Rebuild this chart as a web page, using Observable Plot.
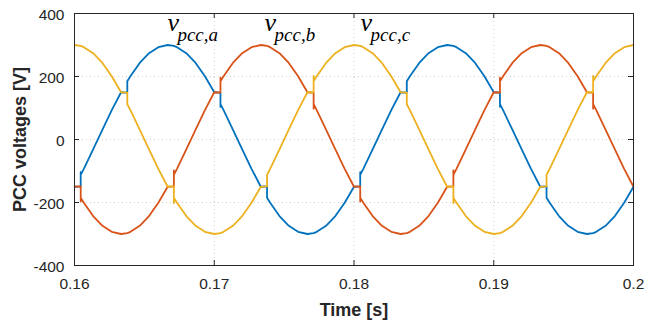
<!DOCTYPE html>
<html>
<head>
<meta charset="utf-8">
<script src="https://cdn.jsdelivr.net/npm/d3@7"></script>
<script src="https://cdn.jsdelivr.net/npm/@observablehq/plot@0.6"></script>
<style>
  html, body { margin: 0; padding: 0; background: #fff; }
  #chart { width: 645px; height: 324px; }
</style>
</head>
<body>
<div id="chart"></div>
<script>
// Sample instants [s]; repeated instants carry the step at the end of each commutation overlap
const time = [
  0.16, 0.160444, 0.160444, 0.160444,
  0.160667, 0.161333, 0.162, 0.162667, 0.163333,
  0.163778, 0.163778, 0.163778,
  0.164, 0.164667, 0.165333, 0.166, 0.166667,
  0.167111, 0.167111, 0.167111,
  0.167333, 0.168, 0.168667, 0.169333, 0.17,
  0.170444, 0.170444, 0.170444,
  0.170667, 0.171333, 0.172, 0.172667, 0.173333,
  0.173778, 0.173778, 0.173778,
  0.174, 0.174667, 0.175333, 0.176, 0.176667,
  0.177111, 0.177111, 0.177111,
  0.177333, 0.178, 0.178667, 0.179333, 0.18,
  0.180444, 0.180444, 0.180444,
  0.180667, 0.181333, 0.182, 0.182667, 0.183333,
  0.183778, 0.183778, 0.183778,
  0.184, 0.184667, 0.185333, 0.186, 0.186667,
  0.187111, 0.187111, 0.187111,
  0.187333, 0.188, 0.188667, 0.189333, 0.19,
  0.190444, 0.190444, 0.190444,
  0.190667, 0.191333, 0.192, 0.192667, 0.193333,
  0.193778, 0.193778, 0.193778,
  0.194, 0.194667, 0.195333, 0.196, 0.196667,
  0.197111, 0.197111, 0.197111,
  0.197333, 0.198, 0.198667, 0.199333, 0.2
];

// PCC phase voltages [V]
const vpccA = [
  -150, -149, -104, -112,
  -93, -31, 31, 93, 150,
  149, 185, 185,
  201, 243, 274, 293, 300,
  297, 297, 297,
  293, 274, 243, 201, 150,
  149, 104, 112,
  93, 31, -31, -93, -150,
  -149, -185, -185,
  -201, -243, -274, -293, -300,
  -297, -297, -297,
  -293, -274, -243, -201, -150,
  -149, -104, -112,
  -93, -31, 31, 93, 150,
  149, 185, 185,
  201, 243, 274, 293, 300,
  297, 297, 297,
  293, 274, 243, 201, 150,
  149, 104, 112,
  93, 31, -31, -93, -150,
  -149, -185, -185,
  -201, -243, -274, -293, -300,
  -297, -297, -297,
  -293, -274, -243, -201, -150
];

const vpccB = [
  -150, -149, -197, -185,
  -201, -243, -274, -293, -300,
  -297, -297, -297,
  -293, -274, -243, -201, -150,
  -149, -98, -112,
  -93, -31, 31, 93, 150,
  149, 196, 185,
  201, 243, 274, 293, 300,
  297, 297, 297,
  293, 274, 243, 201, 150,
  149, 98, 112,
  93, 31, -31, -93, -150,
  -149, -197, -185,
  -201, -243, -274, -293, -300,
  -297, -297, -297,
  -293, -274, -243, -201, -150,
  -149, -98, -112,
  -93, -31, 31, 93, 150,
  149, 196, 185,
  201, 243, 274, 293, 300,
  297, 297, 297,
  293, 274, 243, 201, 150,
  149, 98, 112,
  93, 31, -31, -93, -150
];

const vpccC = [
  300, 297, 297, 297,
  293, 274, 243, 201, 150,
  149, 112, 112,
  93, 31, -31, -93, -150,
  -149, -202, -185,
  -201, -243, -274, -293, -300,
  -297, -297, -297,
  -293, -274, -243, -201, -150,
  -149, -112, -112,
  -93, -31, 31, 93, 150,
  149, 202, 185,
  201, 243, 274, 293, 300,
  297, 297, 297,
  293, 274, 243, 201, 150,
  149, 112, 112,
  93, 31, -31, -93, -150,
  -149, -202, -185,
  -201, -243, -274, -293, -300,
  -297, -297, -297,
  -293, -274, -243, -201, -150,
  -149, -112, -112,
  -93, -31, 31, 93, 150,
  149, 202, 185,
  201, 243, 274, 293, 300
];

const phaseNames = ["a", "b", "c"];
const phaseColors = ["#0072BD", "#D95319", "#EDB120"];
const phaseValues = [vpccA, vpccB, vpccC];

// Trace annotations: italic "v" with a subscript, placed above each peak
const labelTime = [0.16665, 0.1736, 0.18047];
const labelVolt = [346, 346, 346];
const labelSub = ["pcc,a", "pcc,b", "pcc,c"];

const xTicks = [0.16, 0.17, 0.18, 0.19, 0.2];
const yTicks = [-400, -200, 0, 200, 400];

const axisColor = "#262626";
const W = 645, H = 324;
const mL = 74, mR = 12, mT = 13, mB = 59;
const innerW = W - mL - mR, innerH = H - mT - mB;
const tickLen = 5;

const lines = phaseValues.map((vals, k) =>
  Plot.line(time.map((t, i) => ({t, v: vals[i]})), {
    x: "t", y: "v", stroke: phaseColors[k], strokeWidth: 1.8,
    strokeLinejoin: "round", strokeLinecap: "butt"
  })
);

const labels = labelTime.map((t, i) => ({t, v: labelVolt[i], sub: labelSub[i]}));

const chart = Plot.plot({
  width: W, height: H,
  marginLeft: mL, marginRight: mR, marginTop: mT, marginBottom: mB,
  x: {domain: [0.16, 0.2]},
  y: {domain: [-400, 400]},
  style: {fontFamily: "'Liberation Sans', Arial, Helvetica, sans-serif", fontSize: "15px", color: axisColor, background: "#fff"},
  marks: [
    Plot.gridX(xTicks, {stroke: axisColor, strokeOpacity: 0.22, strokeDasharray: "1,3"}),
    Plot.gridY(yTicks, {stroke: axisColor, strokeOpacity: 0.22, strokeDasharray: "1,3"}),
    ...lines,
    Plot.frame({stroke: axisColor, strokeWidth: 1}),
    // inward ticks on all four sides
    Plot.tickX(xTicks, {x: d => d, insetTop: innerH - tickLen, stroke: axisColor}),
    Plot.tickX(xTicks, {x: d => d, insetBottom: innerH - tickLen, stroke: axisColor}),
    Plot.tickY(yTicks, {y: d => d, insetRight: innerW - tickLen, stroke: axisColor}),
    Plot.tickY(yTicks, {y: d => d, insetLeft: innerW - tickLen, stroke: axisColor}),
    Plot.axisX(xTicks, {tickSize: 0, tickPadding: 12, label: null, fontSize: 15.5, tickFormat: d => String(d)}),
    Plot.axisY(yTicks, {tickSize: 0, tickPadding: 10, label: null, fontSize: 15.5, tickFormat: d => String(d), dy: 2}),
    Plot.text(["Time [s]"], {frameAnchor: "bottom", dy: 50, textAnchor: "middle", lineAnchor: "bottom", fontWeight: "bold", fontSize: 18, fill: axisColor}),
    Plot.text(["PCC voltages [V]"], {frameAnchor: "left", dx: -49, rotate: -90, textAnchor: "middle", lineAnchor: "bottom", fontWeight: "bold", fontSize: 18, fill: axisColor}),
    Plot.text(labels, {x: "t", y: "v", text: () => "v", textAnchor: "start", lineAnchor: "bottom",
      fontFamily: "'Liberation Serif', 'Times New Roman', serif", fontStyle: "italic", fontSize: 26, fill: "#000"}),
    Plot.text(labels, {x: "t", y: "v", text: "sub", textAnchor: "start", lineAnchor: "bottom", dx: 10, dy: 10,
      fontFamily: "'Liberation Serif', 'Times New Roman', serif", fontStyle: "italic", fontSize: 19, fill: "#000"})
  ]
});

document.getElementById("chart").append(chart);
</script>
</body>
</html>
